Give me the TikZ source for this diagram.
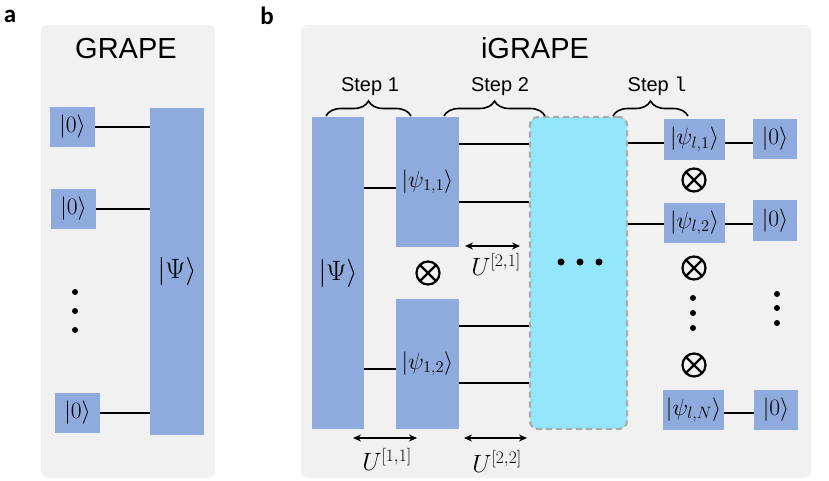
\RequirePackage{fix-cm}
\documentclass[tikz,border=0pt]{standalone}
\usepackage[no-math]{fontspec}
\newfontfamily\sansf{Liberation Sans}
\newfontfamily\tagfont{Carlito}
\newfontfamily\monof{Liberation Mono}
\usetikzlibrary{arrows.meta,decorations.pathreplacing}

\definecolor{qblue}{RGB}{143,171,221}
\definecolor{qcyan}{RGB}{148,230,253}
\definecolor{panelbg}{RGB}{241,241,241}
\definecolor{dashgray}{RGB}{172,172,172}

\tikzset{
  panel/.style={fill=panelbg, rounded corners=7pt},
  qbox/.style={fill=qblue, inner sep=0pt, font=\fontsize{23.5}{25}\selectfont},
  bigbox/.style={qbox, font=\fontsize{28}{30}\selectfont},
  wire/.style={line width=2.8pt},
  tensor/.style={circle, draw, line width=2.2pt, minimum size=23pt, inner sep=0pt,
    path picture={\draw[line width=2.2pt]
      (path picture bounding box.north west) -- (path picture bounding box.south east)
      (path picture bounding box.north east) -- (path picture bounding box.south west);}},
  dimarrow/.style={{Stealth[length=8pt,width=7pt]}-{Stealth[length=8pt,width=7pt]}, line width=1.5pt},
  stepbrace/.style={decorate, decoration={brace, amplitude=15pt}, line width=1.6pt},
  title/.style={font=\sansf\fontsize{29}{32}\selectfont},
  steplabel/.style={font=\sansf\fontsize{20}{22}\selectfont},
  ulabel/.style={font=\fontsize{25}{27}\selectfont},
  tag/.style={font=\tagfont\bfseries\fontsize{25}{27}\selectfont},
}

\begin{document}
\begin{tikzpicture}[x=1pt,y=-1pt]
\useasboundingbox (0,0) rectangle (829,480);

% panel a: GRAPE
\fill[panel] (41,25) rectangle (215,478);
\node[tag] (taga) at (10,16) {a};
\node[title] (grape) at (126,49) {GRAPE};
\node[qbox, minimum width=45pt, minimum height=40pt] (za1) at (72.5,127) {$|0\rangle$};
\node[qbox, minimum width=45pt, minimum height=40pt] (za2) at (73.5,209) {$|0\rangle$};
\node[qbox, minimum width=45pt, minimum height=40pt] (za3) at (77.5,413) {$|0\rangle$};
\node[bigbox, minimum width=54pt, minimum height=327pt] (PsiA) at (177,271.5) {$|\Psi\rangle$};
\foreach \n in {za1,za2,za3}
  \draw[wire] (\n.east) -- (\n.east -| PsiA.west);
\foreach \y in {292,311,330}
  \fill (75,\y) circle (3pt);

% panel b: iGRAPE
\fill[panel] (301,25) rectangle (811,478);
\node[tag] (tagb) at (267,16) {b};
\node[title] (igrape) at (535,48) {iGRAPE};

\node[bigbox, minimum width=52pt, minimum height=312pt] (PsiB) at (338,273) {$|\Psi\rangle$};
\node[qbox, minimum width=63pt, minimum height=130pt] (psiA) at (427.5,182) {$|\psi_{1,1}\rangle$};
\node[qbox, minimum width=63pt, minimum height=130pt] (psiB) at (427.5,364) {$|\psi_{1,2}\rangle$};
\node[tensor] (ot0) at (428,273) {};
\node[fill=qcyan, draw=dashgray, line width=2.2pt, dash pattern=on 6pt off 4pt,
  rounded corners=8pt, minimum width=97pt, minimum height=312pt] (mid) at (578.5,273) {};
\foreach \x in {561,580,599}
  \fill (\x,262) circle (3.5pt);

% last step
\node[qbox, minimum width=61pt, minimum height=41pt] (psiL1) at (694.5,139.5) {$|\psi_{l,1}\rangle$};
\node[qbox, minimum width=61pt, minimum height=40pt] (psiL2) at (694.5,223) {$|\psi_{l,2}\rangle$};
\node[qbox, minimum width=61pt, minimum height=40pt] (psiLN) at (693.5,410) {$|\psi_{l,N}\rangle$};
\node[qbox, minimum width=44pt, minimum height=40pt] (zb1) at (775,139) {$|0\rangle$};
\node[qbox, minimum width=44pt, minimum height=41pt] (zb2) at (775,220.5) {$|0\rangle$};
\node[qbox, minimum width=44pt, minimum height=40pt] (zb3) at (776,410) {$|0\rangle$};
\node[tensor] (ot1) at (694,180) {};
\node[tensor] (ot2) at (694,268) {};
\node[tensor] (ot3) at (694,365) {};
\foreach \y in {298,313,328}
  \fill (693,\y) circle (3pt);
\foreach \y in {294,308,323}
  \fill (777,\y) circle (3pt);

% wire heights
\coordinate (wa) at (0,188);
\coordinate (wb) at (0,369);
\coordinate (w1) at (0,144);
\coordinate (w2) at (0,202);
\coordinate (w3) at (0,326);
\coordinate (w4) at (0,383);
\coordinate (wr1) at (0,143);
\coordinate (wr2) at (0,224);
\coordinate (wrN) at (0,413);

\draw[wire] (PsiB.east |- wa) -- (psiA.west |- wa);
\draw[wire] (PsiB.east |- wb) -- (psiB.west |- wb);
\draw[wire] (psiA.east |- w1) -- (mid.west |- w1);
\draw[wire] (psiA.east |- w2) -- (mid.west |- w2);
\draw[wire] (psiB.east |- w3) -- (mid.west |- w3);
\draw[wire] (psiB.east |- w4) -- (mid.west |- w4);
\draw[wire] (mid.east |- wr1) -- (psiL1.west |- wr1);
\draw[wire] (mid.east |- wr2) -- (psiL2.west |- wr2);
\draw[wire] (psiL1.east |- wr1) -- (zb1.west |- wr1);
\draw[wire] (psiL2.east |- wr2) -- (zb2.west |- wr2);
\draw[wire] (psiLN.east |- wrN) -- (zb3.west |- wrN);

% steps
\coordinate (s1l) at (326,116);
\coordinate (s1r) at (411,116);
\coordinate (s2l) at (444,116);
\coordinate (s2r) at (545,116);
\coordinate (sLl) at (613,116);
\coordinate (sLr) at (688,116);
\draw[stepbrace] (s1l) -- (s1r);
\draw[stepbrace] (s2l) -- (s2r);
\draw[stepbrace] (sLl) -- (sLr);
\node[steplabel] (step1) at (370,87) {Step 1};
\node[steplabel] (step2) at (500,87) {Step 2};
\node[steplabel] (stepL) at (657,86) {Step {\monof l}};

% unitaries
\coordinate (u21l) at (465,246);
\coordinate (u21r) at (520,246);
\coordinate (u11l) at (353,438);
\coordinate (u11r) at (417,438);
\coordinate (u22l) at (464,438);
\coordinate (u22r) at (527,438);
\draw[dimarrow] (u21l) -- (u21r);
\draw[dimarrow] (u11l) -- (u11r);
\draw[dimarrow] (u22l) -- (u22r);
\node[ulabel] (U21) at (496,264) {$U^{[2,1]}$};
\node[ulabel] (U11) at (387,459) {$U^{[1,1]}$};
\node[ulabel] (U22) at (497,461) {$U^{[2,2]}$};
\end{tikzpicture}
\end{document}
